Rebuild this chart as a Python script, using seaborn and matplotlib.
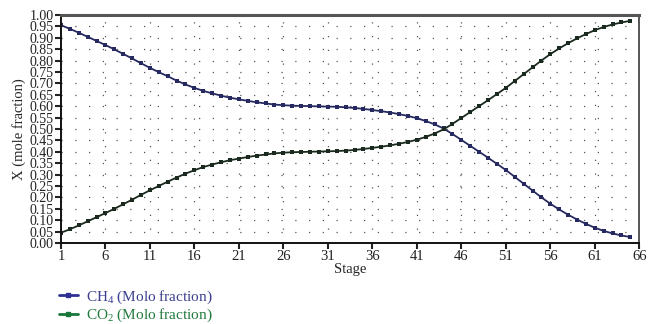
import numpy as np
import pandas as pd
import seaborn as sns
import matplotlib.pyplot as plt
from matplotlib.lines import Line2D

# stage numbers and mole fractions
stages = list(range(1, 66))
ch4 = [0.955, 0.939, 0.922, 0.904, 0.886, 0.868, 0.849, 0.829, 0.809, 0.788,
       0.768, 0.749, 0.731, 0.712, 0.695, 0.680, 0.667, 0.656, 0.646, 0.637,
       0.630, 0.623, 0.617, 0.612, 0.607, 0.604, 0.602, 0.601, 0.600, 0.599,
       0.598, 0.597, 0.595, 0.592, 0.588, 0.583, 0.578, 0.572, 0.565, 0.557,
       0.547, 0.535, 0.520, 0.502, 0.478, 0.452, 0.426, 0.400, 0.374, 0.347,
       0.320, 0.290, 0.260, 0.230, 0.200, 0.172, 0.147, 0.124, 0.103, 0.084,
       0.067, 0.053, 0.042, 0.033, 0.026]
co2 = [0.045, 0.060, 0.077, 0.095, 0.113, 0.131, 0.150, 0.170, 0.190, 0.211,
       0.231, 0.250, 0.269, 0.287, 0.304, 0.319, 0.333, 0.344, 0.354, 0.363,
       0.370, 0.377, 0.383, 0.388, 0.393, 0.396, 0.398, 0.399, 0.400, 0.401,
       0.402, 0.403, 0.405, 0.408, 0.412, 0.417, 0.422, 0.428, 0.435, 0.443,
       0.453, 0.465, 0.480, 0.498, 0.522, 0.548, 0.574, 0.600, 0.626, 0.653,
       0.680, 0.710, 0.740, 0.770, 0.800, 0.828, 0.853, 0.876, 0.897, 0.916,
       0.933, 0.947, 0.958, 0.967, 0.974]
x_ticks = list(range(1, 67, 5))
y_ticks = [round(0.05 * i, 2) for i in range(21)]

df = pd.DataFrame({'Stage': stages, 'CH4': ch4, 'CO2': co2})

sns.set_theme(style='white')
plt.rcParams['font.family'] = ['Liberation Serif', 'DejaVu Serif']
plt.rcParams['mathtext.fontset'] = 'custom'
plt.rcParams['mathtext.rm'] = 'Liberation Serif'
plt.rcParams['mathtext.it'] = 'Liberation Serif:italic'

fig = plt.figure(figsize=(6.55, 3.24), dpi=100)
ax = fig.add_axes([0.093, 0.25, 0.883, 0.704])

sns.lineplot(data=df, x='Stage', y='CH4', ax=ax, color='#262a60', marker='s',
             markersize=3, markeredgewidth=0, linewidth=1.3)
sns.lineplot(data=df, x='Stage', y='CO2', ax=ax, color='#1b2a1e', marker='s',
             markersize=3.3, markeredgewidth=0, linewidth=1.3)

ax.set_xlim(1, 66)
ax.set_ylim(0, 1)
ax.set_xticks(x_ticks)
ax.set_yticks(y_ticks)
ax.set_yticklabels([f'{v:.2f}' for v in y_ticks])
ax.tick_params(axis='both', colors='#222222', direction='out',
               length=4, width=1.5, pad=1, left=True, bottom=True)
ax.tick_params(axis='x', labelsize=10.5)
ax.tick_params(axis='y', labelsize=10)
ax.grid(True, color='#555555', linestyle=(0, (1, 10)), linewidth=0.9)

for side in ['left', 'bottom']:
    ax.spines[side].set_color('#111111')
    ax.spines[side].set_linewidth(1.4)
ax.spines['top'].set_color('#555555')
ax.spines['top'].set_linewidth(2.2)
ax.spines['right'].set_color('#555555')
ax.spines['right'].set_linewidth(1.4)

ax.set_xlabel('Stage', fontsize=10.5, labelpad=0)
ax.set_ylabel('X (mole fraction)', fontsize=10.5, labelpad=3)

handles = [Line2D([], [], color='#2e3192', marker='s', markersize=3, linewidth=2),
           Line2D([], [], color='#17783a', marker='s', markersize=3, linewidth=2)]
labels = ['CH$_4$ (Molo fraction)', 'CO$_2$ (Molo fraction)']
leg = fig.legend(handles, labels, loc='upper left', bbox_to_anchor=(0.08, 0.128),
                 frameon=False, fontsize=11, handlelength=1.3, handletextpad=0.5,
                 labelspacing=0.05, borderaxespad=0)
for txt, c in zip(leg.get_texts(), ['#3a3d8f', '#217a3c']):
    txt.set_color(c)

fig.savefig('out.png', dpi=100)
